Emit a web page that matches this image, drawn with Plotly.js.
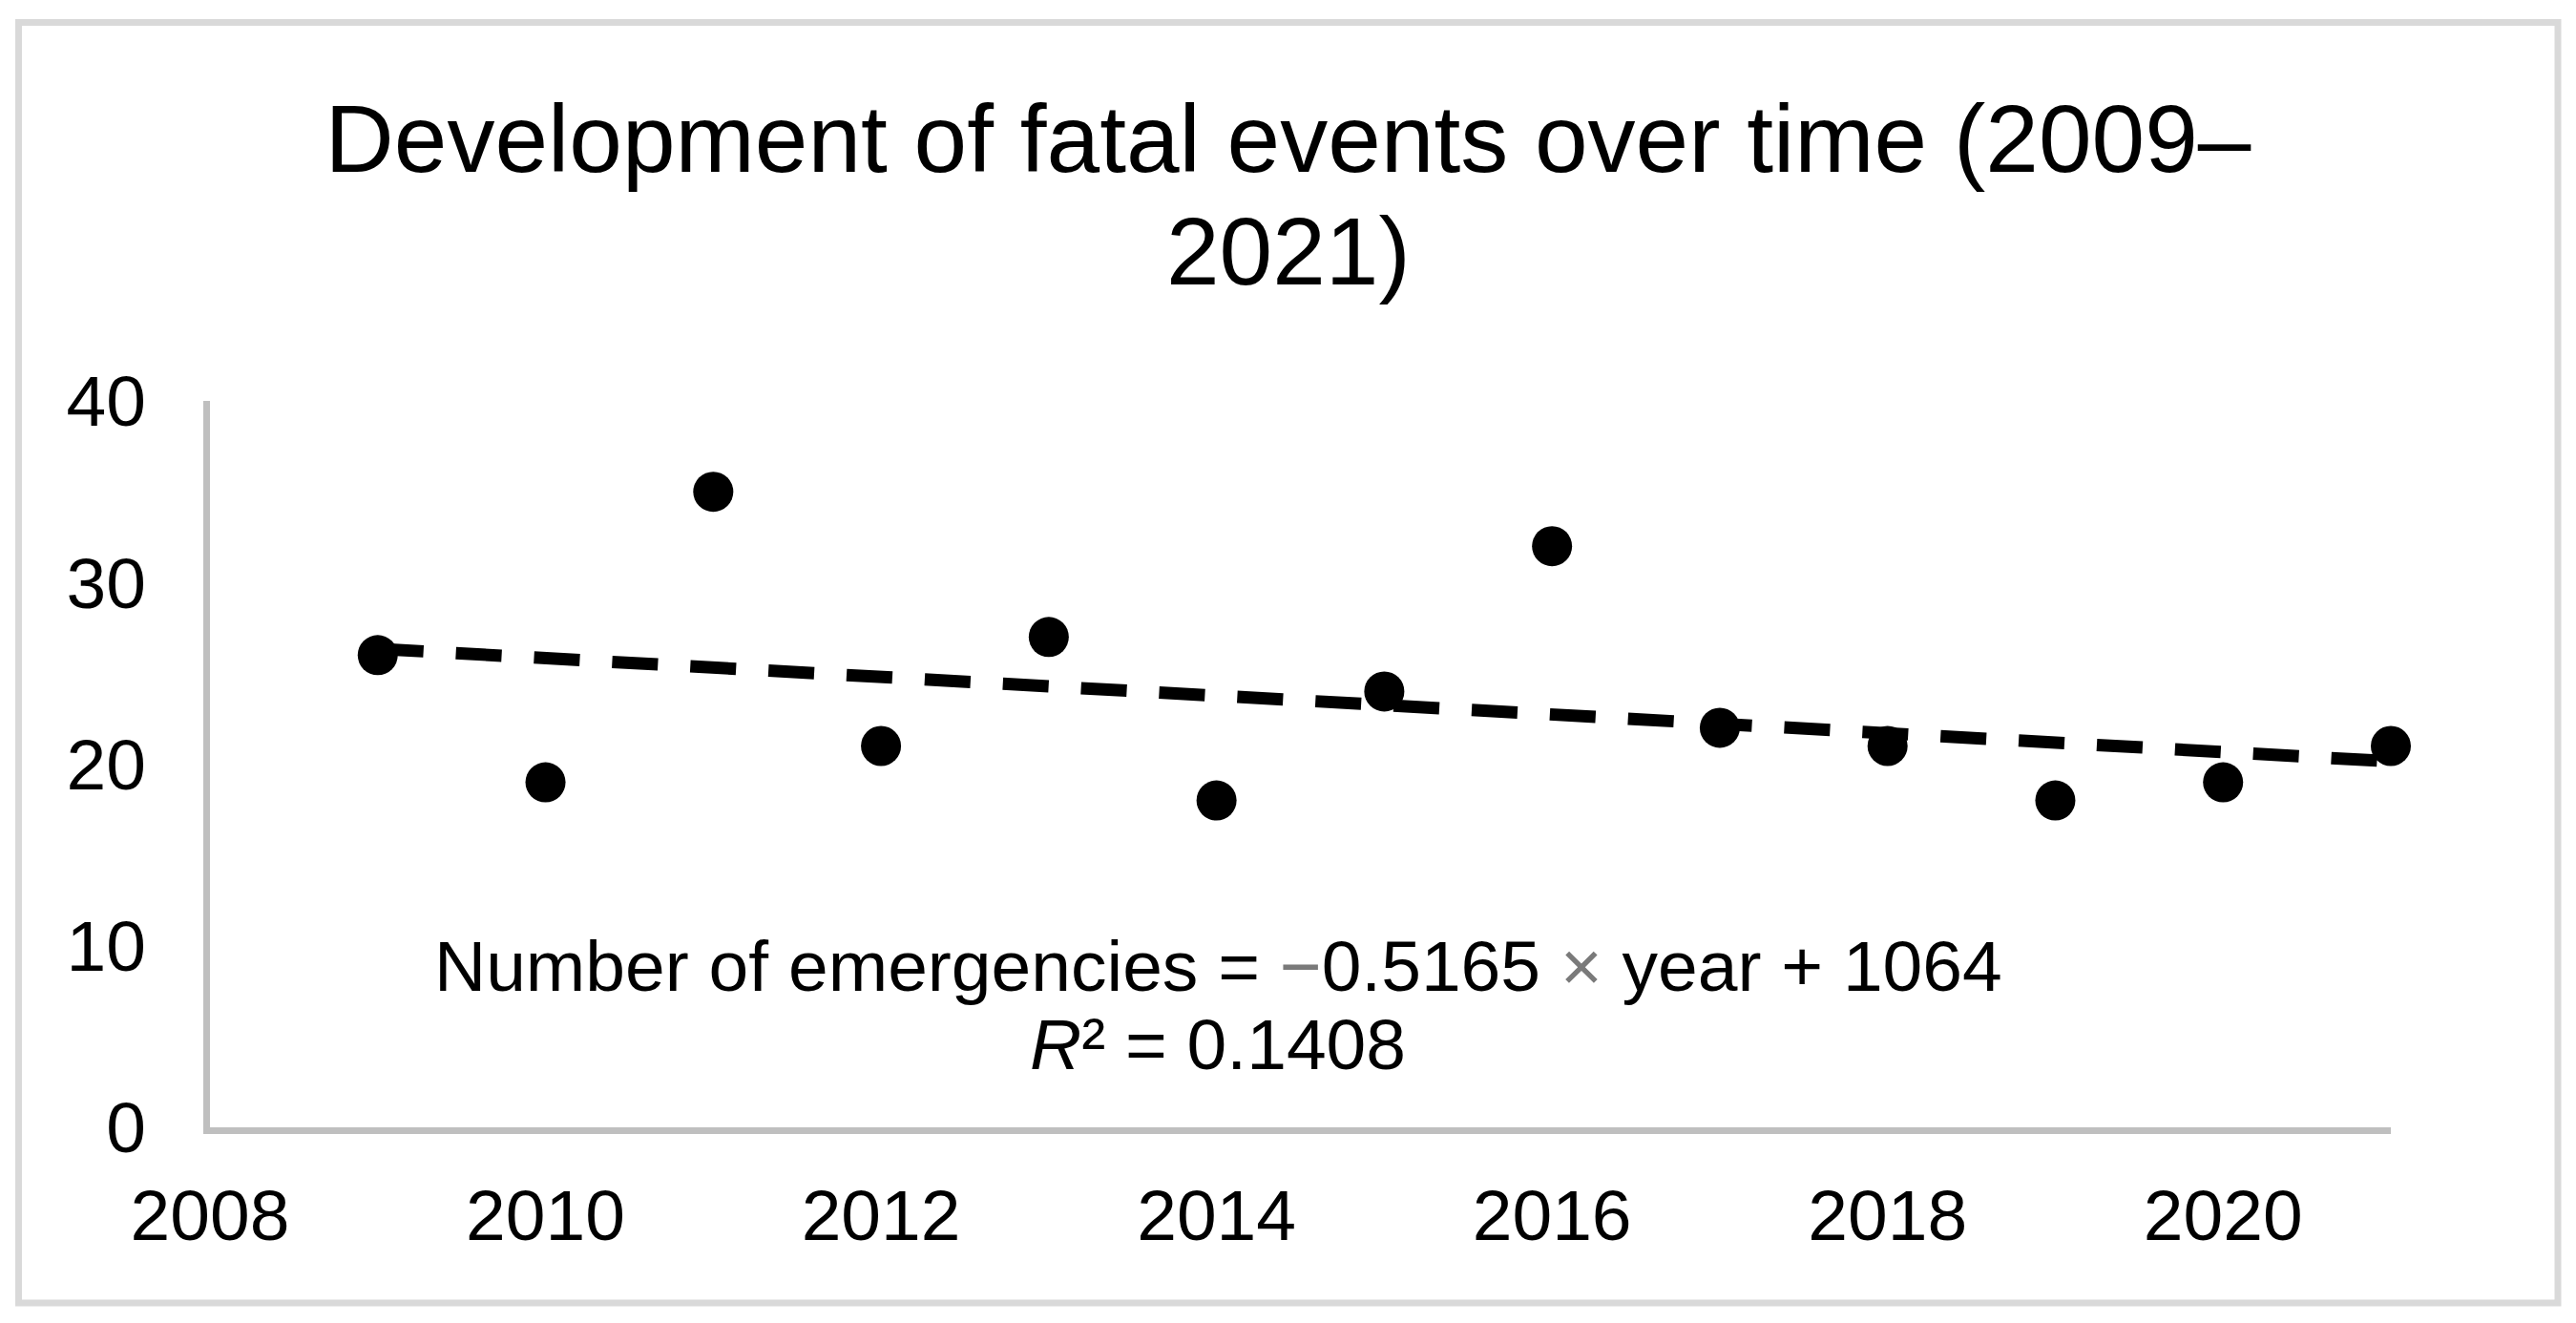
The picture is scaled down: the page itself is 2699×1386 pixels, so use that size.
<!DOCTYPE html>
<html>
<head>
<meta charset="utf-8">
<script src="https://cdn.plot.ly/plotly-3.0.1.min.js"></script>
<style>
  html, body { margin: 0; padding: 0; background: #ffffff; }
  #chart { width: 2699px; height: 1386px; }
</style>
</head>
<body>
<div id="chart"></div>
<script>
// ---- Data ----
const years = [2009, 2010, 2011, 2012, 2013, 2014, 2015, 2016, 2017, 2018, 2019, 2020, 2021];
const fatalEvents = [26, 19, 35, 21, 27, 18, 24, 32, 22, 21, 18, 19, 21];
const trendYears = [2009, 2021];
const trendValues = [26.35, 20.15];
const titleLine1 = "Development of fatal events over time (2009–";
const titleLine2 = "2021)";
const equationText = "Number of emergencies = <span style=\"color:#7a7a7a\">−</span>0.5165 <span style=\"color:#7a7a7a\">×</span> year + 1064";
const r2Text = "<i>R</i>² = 0.1408";

// ---- Layout geometry ----
const W = 2699, H = 1386;
const M = { l: 220, r: 194, t: 420, b: 205 };
const pw = W - M.l - M.r, ph = H - M.t - M.b;
const px = v => (v - M.l) / pw;           // pixel x -> paper x
const py = v => (H - M.b - v) / ph;       // pixel y -> paper y
const FONT = "Liberation Sans, Arial, sans-serif";

const traces = [
  {
    x: trendYears, y: trendValues, type: "scatter", mode: "lines",
    line: { color: "#000000", width: 13, dash: "48px,34px" },
    hoverinfo: "skip", showlegend: false, cliponaxis: false
  },
  {
    x: years, y: fatalEvents, type: "scatter", mode: "markers",
    marker: { color: "#000000", size: 42 },
    showlegend: false, cliponaxis: false
  }
];

const layout = {
  width: W, height: H,
  margin: M,
  paper_bgcolor: "#ffffff", plot_bgcolor: "#ffffff",
  font: { family: FONT, color: "#000000", size: 75 },
  title: {
    text: titleLine1,
    font: { family: FONT, size: 100, color: "#000000" },
    x: 0.5, xref: "container", xanchor: "center",
    y: 1 - 145 / H, yref: "container", yanchor: "middle"
  },
  xaxis: {
    range: [2008, 2021], tick0: 2008, dtick: 2, tickmode: "linear",
    showgrid: false, zeroline: false, showline: true,
    linecolor: "#bfbfbf", linewidth: 7, ticks: "",
    ticklabelstandoff: 21,
    tickfont: { family: FONT, size: 75, color: "#000000" }
  },
  yaxis: {
    range: [0, 40], tick0: 0, dtick: 10, tickmode: "linear",
    showgrid: false, zeroline: false, showline: true,
    linecolor: "#bfbfbf", linewidth: 7, ticks: "",
    ticklabelstandoff: 45,
    tickfont: { family: FONT, size: 75, color: "#000000" }
  },
  annotations: [
    {
      text: titleLine2, xref: "paper", yref: "paper",
      x: px(1349.5), y: py(263), xanchor: "center", yanchor: "middle",
      showarrow: false, font: { family: FONT, size: 100, color: "#000000" }
    },
    {
      text: equationText, xref: "paper", yref: "paper",
      x: px(1276), y: py(1012), xanchor: "center", yanchor: "middle",
      showarrow: false, font: { family: FONT, size: 75, color: "#000000" }
    },
    {
      text: r2Text, xref: "paper", yref: "paper",
      x: px(1276), y: py(1094), xanchor: "center", yanchor: "middle",
      showarrow: false, font: { family: FONT, size: 75, color: "#000000" }
    }
  ],
  shapes: [
    {
      type: "rect", xref: "paper", yref: "paper", layer: "below",
      x0: px(19.5), x1: px(2680), y0: py(1365), y1: py(23.5),
      line: { color: "#d9d9d9", width: 7 }, fillcolor: "rgba(0,0,0,0)"
    }
  ],
  hovermode: false,
  showlegend: false
};

Plotly.newPlot("chart", traces, layout, { displayModeBar: false, staticPlot: true });
</script>
</body>
</html>
